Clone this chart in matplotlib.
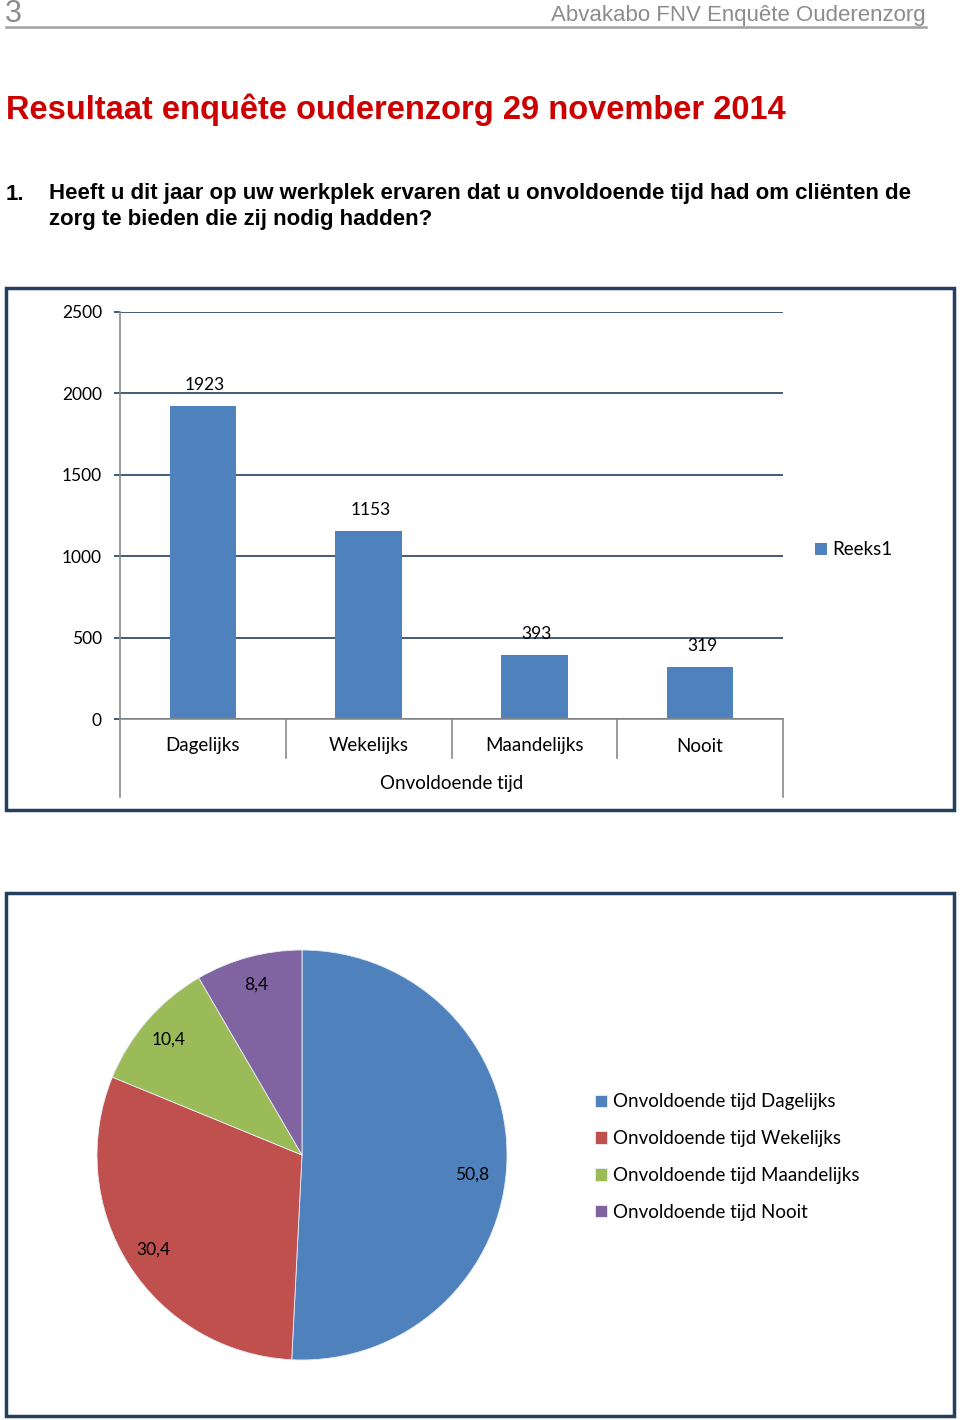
import matplotlib
matplotlib.use("Agg")
import matplotlib.pyplot as plt
from matplotlib.patches import Rectangle
from matplotlib.transforms import blended_transform_factory

# ---- data ----
categories = ["Dagelijks", "Wekelijks", "Maandelijks", "Nooit"]
group_label = "Onvoldoende tijd"
counts = [1923, 1153, 393, 319]
series_name = "Reeks1"
y_ticks = [0, 500, 1000, 1500, 2000, 2500]
pie_values = [50.8, 30.4, 10.4, 8.4]
pie_labels = ["Onvoldoende tijd Dagelijks", "Onvoldoende tijd Wekelijks",
              "Onvoldoende tijd Maandelijks", "Onvoldoende tijd Nooit"]
pie_colors = ["#4f81bd", "#c0504d", "#9bbb59", "#8064a2"]
bar_color = "#4f81bd"

W, H = 960, 1420
fig = plt.figure(figsize=(W / 100, H / 100), dpi=100)


def fx(x):
    return x / W


def fy(y):
    return 1 - y / H


BODY = ["Lato", "DejaVu Sans"]
NAVY = "#243f60"
NUM_FS = 12.5
TXT_FS = 13.5

# ---- header ----
HF = ["Liberation Sans Narrow", "Liberation Sans", "DejaVu Sans"]
fig.text(fx(5), fy(14), "3", fontsize=22, color="#8c8c8c", ha="left", va="center", family=HF)
fig.text(fx(926), fy(16), "Abvakabo FNV Enquête Ouderenzorg", fontsize=16, color="#8c8c8c",
         ha="right", va="center", family=HF)
fig.add_artist(plt.Line2D([fx(6), fx(926)], [fy(27), fy(27)], color="#a0a0a0", lw=1.8,
                          transform=fig.transFigure))

fig.text(fx(6), fy(110), "Resultaat enquête ouderenzorg 29 november 2014", fontsize=23.5,
         color="#cc0000", fontweight="heavy", ha="left", va="center",
         family=["Liberation Sans", "DejaVu Sans"])
QF = ["Liberation Sans", "DejaVu Sans"]
fig.text(fx(6), fy(194), "1.", fontsize=16, fontweight="bold", ha="left", va="center", family=QF)
fig.text(fx(49), fy(194), "Heeft u dit jaar op uw werkplek ervaren dat u onvoldoende tijd had om cliënten de",
         fontsize=16, fontweight="bold", ha="left", va="center", family=QF)
fig.text(fx(49), fy(220), "zorg te bieden die zij nodig hadden?",
         fontsize=16, fontweight="bold", ha="left", va="center", family=QF)

# ---- frames ----
for (x0, y0, x1, y1) in [(6, 288, 954, 810), (6, 893, 954, 1416)]:
    fig.add_artist(Rectangle((fx(x0), fy(y1)), fx(x1) - fx(x0), fy(y0) - fy(y1),
                             transform=fig.transFigure, fill=False,
                             edgecolor=NAVY, lw=2.5))

# ---- bar chart ----
ax = fig.add_axes([fx(120), fy(719), fx(783) - fx(120), fy(312) - fy(719)])
x = list(range(len(categories)))
bars = ax.bar(x, counts, width=0.4, color=bar_color, label=series_name, zorder=3)
ax.set_xlim(-0.5, len(categories) - 0.5)
ax.set_ylim(0, 2500)
ax.set_yticks(y_ticks)
ax.set_yticklabels([str(t) for t in y_ticks], family=BODY, fontsize=NUM_FS)
ax.tick_params(axis="y", length=4, width=1.2, color=NAVY, pad=9)
ax.set_xticks([])
ax.yaxis.grid(True, color=NAVY, lw=1.2, zorder=0)
for s in ["top", "right", "bottom"]:
    ax.spines[s].set_visible(False)
ax.spines["left"].set_color("#8a8a8a")
ax.spines["left"].set_linewidth(1.2)
ax.set_facecolor("none")

for i, v in enumerate(counts):
    ax.annotate(str(v), (i, v), xytext=(1.5, 15), textcoords="offset points",
                ha="center", va="center", family=BODY, fontsize=NUM_FS)

trans = blended_transform_factory(ax.transData, ax.transAxes)
ax_h = fy(312) - fy(719)
sep_bottom = -(758 - 719) / H / ax_h
outer_bottom = -(797 - 719) / H / ax_h
for i, c in enumerate(categories):
    ax.text(i, -(746 - 719) / H / ax_h, c, transform=trans, ha="center", va="center",
            family=BODY, fontsize=TXT_FS)
for b in [0.5, 1.5, 2.5]:
    ax.plot([b, b], [0, sep_bottom], transform=trans, color="#8a8a8a", lw=1.2, clip_on=False)
for b in [-0.5, len(categories) - 0.5]:
    ax.plot([b, b], [0, outer_bottom], transform=trans, color="#8a8a8a", lw=1.2, clip_on=False)
ax.plot([-0.5, len(categories) - 0.5], [0, 0], transform=trans, color="#8a8a8a", lw=1.2,
        clip_on=False, zorder=4)
ax.text((len(categories) - 1) / 2, -(784 - 719) / H / ax_h, group_label, transform=trans,
        ha="center", va="center", family=BODY, fontsize=TXT_FS)

leg = ax.legend(handles=[bars], labels=[series_name], loc="center left",
                bbox_to_anchor=(fx(798), fy(550)), bbox_transform=fig.transFigure,
                frameon=False, handlelength=0.65, handleheight=0.65, handletextpad=0.3,
                prop={"family": BODY, "size": TXT_FS})

# ---- pie chart ----
cx, cy, r = 302, 1155, 205
ax2 = fig.add_axes([fx(cx - r), fy(cy + r), fx(2 * r), fy(0) - fy(2 * r)])
wedges, texts, autotexts = ax2.pie(pie_values, colors=pie_colors, startangle=90,
                                   counterclock=False, radius=1,
                                   autopct=lambda p: "", pctdistance=0.86,
                                   wedgeprops={"linewidth": 0.6, "edgecolor": "#e8eef6"})
for t, v in zip(autotexts, pie_values):
    t.set_text(f"{v:.1f}".replace(".", ","))
    t.set_fontfamily(BODY)
    t.set_fontsize(NUM_FS)
# Excel's best-fit places the largest slice label a bit lower/inward
px0, py0 = autotexts[0].get_position()
autotexts[0].set_position((px0 - 0.03, py0 - 0.075))
ax2.set_xlim(-1, 1)
ax2.set_ylim(-1, 1)
ax2.set_aspect("equal")
ax2.axis("off")

ax2.legend(wedges, pie_labels, loc="center left",
           bbox_to_anchor=(fx(578), fy(1157)), bbox_transform=fig.transFigure,
           frameon=False, handlelength=0.65, handleheight=0.65, handletextpad=0.3,
           labelspacing=1.05, prop={"family": BODY, "size": TXT_FS})

fig.savefig("out.png", dpi=100)
